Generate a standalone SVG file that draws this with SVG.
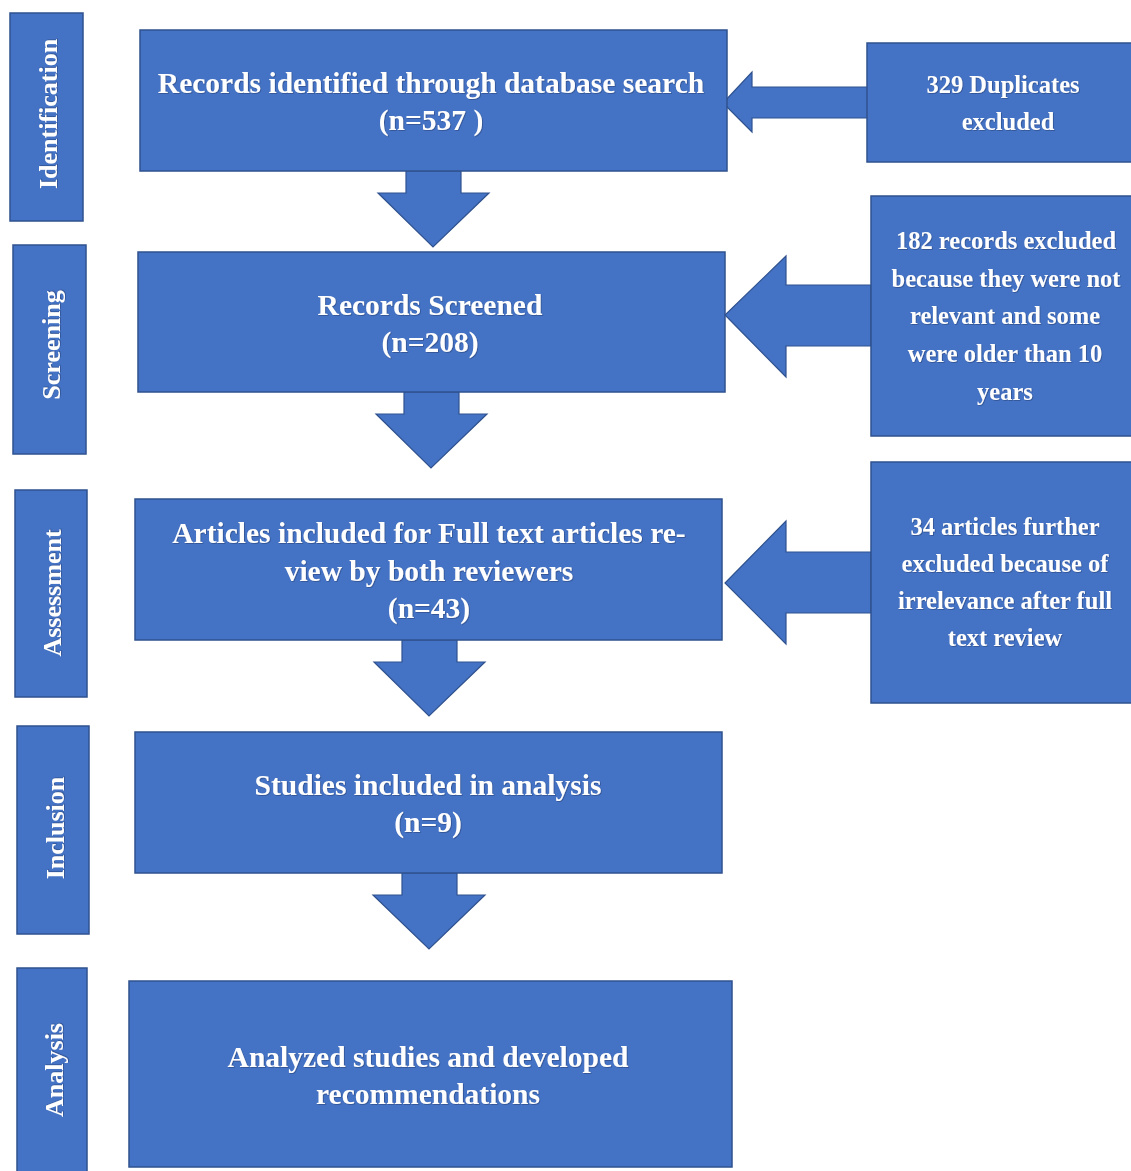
<svg xmlns="http://www.w3.org/2000/svg" width="1131" height="1171" viewBox="0 0 1131 1171">
<defs>
<filter id="sh" x="-5%" y="-20%" width="110%" height="140%">
<feDropShadow dx="0.8" dy="0.8" stdDeviation="0.7" flood-color="#1F3864" flood-opacity="0.55"/>
</filter>
</defs>
<style>
.box{fill:#4472C4;stroke:#2F528F;stroke-width:1.5}
.arr{fill:#4472C4;stroke:#2F528F;stroke-width:1.2;stroke-linejoin:miter}
.t{fill:#FFFFFF;font-family:"Liberation Serif","DejaVu Serif",serif;font-weight:bold;text-anchor:middle;filter:url(#sh)}
.main{font-size:29.5px}
.side{font-size:24.5px}
.lab{font-size:26px}
</style>
<rect width="1131" height="1171" fill="#FFFFFF"/>
<g id="connectors">
<path class="arr" d="M406,171 L406,193 L378,193 L433,247 L489,193 L461,193 L461,171 Z"/>
<path class="arr" d="M404,392 L404,414 L376,414 L431,468 L487,414 L459,414 L459,392 Z"/>
<path class="arr" d="M402,640 L402,662 L374,662 L429,716 L485,662 L457,662 L457,640 Z"/>
<path class="arr" d="M402,873 L402,895 L373,895 L429,949 L485,895 L457,895 L457,873 Z"/>
<path class="arr" d="M868,87 L752,87 L752,72 L723,103 L752,132 L752,118 L868,118 Z"/>
<path class="arr" d="M871,285 L786,285 L786,256 L725,315 L786,377 L786,346 L871,346 Z"/>
<path class="arr" d="M871,552 L786,552 L786,521 L725,583 L786,644 L786,613 L871,613 Z"/>
</g>
<g id="stage-identification">
<rect class="box" x="10" y="13" width="73" height="208"/>
<text class="t lab" transform="translate(57,114) rotate(-90)">Identification</text>
</g>
<g id="stage-screening">
<rect class="box" x="13" y="245" width="73" height="209"/>
<text class="t lab" transform="translate(60,345) rotate(-90)">Screening</text>
</g>
<g id="stage-assessment">
<rect class="box" x="15" y="490" width="72" height="207"/>
<text class="t lab" transform="translate(61,593) rotate(-90)">Assessment</text>
</g>
<g id="stage-inclusion">
<rect class="box" x="17" y="726" width="72" height="208"/>
<text class="t lab" transform="translate(64,828) rotate(-90)">Inclusion</text>
</g>
<g id="stage-analysis">
<rect class="box" x="17" y="968" width="70" height="210"/>
<text class="t lab" transform="translate(63,1070) rotate(-90)">Analysis</text>
</g>
<g id="records-identified">
<rect class="box" x="140" y="30" width="587" height="141"/>
<text class="t main" x="431" y="93">Records identified through database search</text>
<text class="t main" x="431" y="130">(n=537 )</text>
</g>
<g id="records-screened">
<rect class="box" x="138" y="252" width="587" height="140"/>
<text class="t main" x="430" y="315">Records Screened</text>
<text class="t main" x="430" y="352">(n=208)</text>
</g>
<g id="articles-included">
<rect class="box" x="135" y="499" width="587" height="141"/>
<text class="t main" x="429" y="543">Articles included for Full text articles re-</text>
<text class="t main" x="429" y="581">view by both reviewers</text>
<text class="t main" x="429" y="618">(n=43)</text>
</g>
<g id="studies-included">
<rect class="box" x="135" y="732" width="587" height="141"/>
<text class="t main" x="428" y="795">Studies included in analysis</text>
<text class="t main" x="428" y="832">(n=9)</text>
</g>
<g id="analyzed">
<rect class="box" x="129" y="981" width="603" height="186"/>
<text class="t main" x="428" y="1067">Analyzed studies and developed</text>
<text class="t main" x="428" y="1104">recommendations</text>
</g>
<g id="duplicates-excluded">
<rect class="box" x="867" y="43" width="270" height="119"/>
<text class="t side" x="1003" y="93">329 Duplicates</text>
<text class="t side" x="1008" y="130">excluded</text>
</g>
<g id="records-excluded">
<rect class="box" x="871" y="196" width="266" height="240"/>
<text class="t side" x="1006" y="249">182 records excluded</text>
<text class="t side" x="1006" y="287">because they were not</text>
<text class="t side" x="1005" y="324">relevant and some</text>
<text class="t side" x="1005" y="362">were older than 10</text>
<text class="t side" x="1005" y="400">years</text>
</g>
<g id="articles-excluded">
<rect class="box" x="871" y="462" width="266" height="241"/>
<text class="t side" x="1005" y="535">34 articles further</text>
<text class="t side" x="1005" y="572">excluded because of</text>
<text class="t side" x="1005" y="609">irrelevance after full</text>
<text class="t side" x="1005" y="646">text review</text>
</g>
</svg>
